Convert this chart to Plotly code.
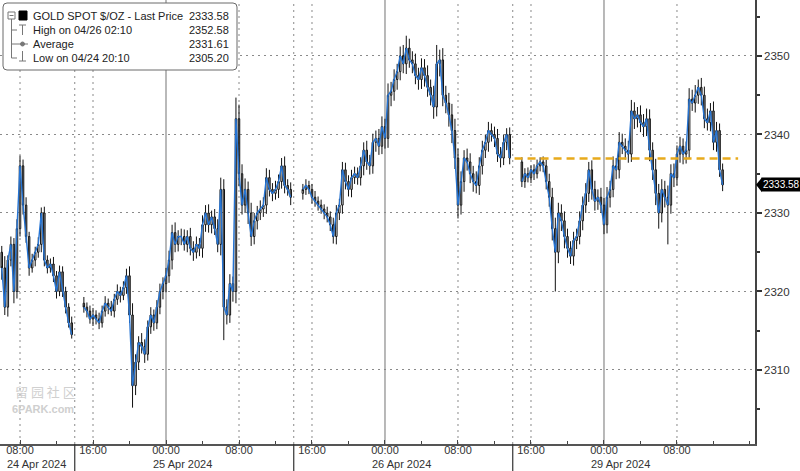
import plotly.graph_objects as go

# ---------------- data (20-minute bars, axis hours from 24 Apr 00:00, weekend removed) ----------------
seg_start_hours = [6.0, 15.0, 39.0, 63.0]
seg_first_open = [2325.0, 2318.5, 2332.5, 2336.5]

seg1_close = [2323, 2318, 2324, 2326, 2320, 2328, 2336, 2331, 2327, 2323, 2324, 2325,
              2326, 2330, 2324, 2323, 2323.5, 2322, 2320, 2322.5, 2320, 2318, 2316, 2314.5]

seg2_close = [2318, 2317.5, 2316.5, 2317, 2316.5, 2316, 2317.5, 2318.5, 2318, 2317.5, 2319, 2320,
              2319.5, 2320.5, 2322, 2317, 2308, 2311, 2313.5, 2313, 2312, 2315.5, 2317, 2316,
              2318, 2320, 2321, 2322, 2324, 2327.5, 2326, 2327, 2327, 2326, 2327, 2325.5,
              2325, 2326, 2325.5, 2328.5, 2330, 2328.5, 2329.5, 2328, 2326, 2333, 2318, 2317,
              2321, 2320, 2342, 2335, 2331, 2333, 2330, 2327, 2329, 2330, 2330.5, 2331,
              2334.5, 2333, 2332.5, 2333, 2334, 2336, 2333.5, 2333, 2332]

seg3_close = [2333, 2333.5, 2333, 2332, 2331.5, 2331, 2330.5, 2330, 2329.5, 2328.5, 2327, 2330,
              2331, 2335.5, 2334, 2333, 2334.5, 2335, 2334.5, 2336, 2338, 2336.5, 2336, 2339,
              2339.5, 2338.5, 2341, 2339.5, 2345, 2345.5, 2347, 2348, 2350, 2349, 2351, 2349.5,
              2349, 2347.5, 2347, 2348.5, 2347.5, 2346, 2345, 2343.5, 2349, 2349.5, 2345, 2344,
              2342.5, 2340.5, 2337, 2331, 2334, 2337, 2336.5, 2335, 2334, 2333.5, 2336, 2338,
              2339, 2340.5, 2340, 2339.5, 2337.5, 2337, 2339, 2340, 2337]

seg4_close = [2334, 2335, 2334.5, 2335.5, 2335, 2336, 2336.5, 2336, 2334, 2332, 2328, 2325,
              2330, 2329, 2327, 2325.5, 2324.5, 2326.5, 2327, 2329, 2331, 2332.5, 2335.5, 2333,
              2331.5, 2332, 2331, 2328.5, 2332, 2333, 2336, 2335.5, 2339, 2338.5, 2338, 2337.5,
              2343, 2342, 2342.5, 2341.5, 2341, 2342, 2338, 2335.5, 2332.5, 2330, 2333, 2332,
              2331, 2335, 2334.5, 2337.5, 2338.5, 2337.5, 2338, 2344.5, 2344, 2345, 2346, 2345,
              2342, 2341.5, 2343, 2339, 2340.5, 2335.5, 2333.58]

# wick lengths above / below the candle bodies (in $), estimated from the band width of the candles
seg1_up = [0.8, 1.5, 0.6, 1.0, 0.8, 1.2, 1.3, 0.8, 1.0, 0.6, 0.8, 0.7, 0.9, 0.7, 0.8, 0.6, 0.7, 0.9, 0.6, 0.8, 0.7, 0.6, 0.5, 0.8]
seg1_dn = [1.5, 1.0, 1.2, 0.8, 1.5, 0.9, 1.0, 1.2, 0.8, 1.0, 0.6, 0.8, 0.7, 1.0, 0.8, 0.7, 0.6, 0.8, 0.9, 0.6, 0.7, 0.8, 0.6, 0.5]
seg2_up = [0.8, 0.6, 0.7, 0.9, 0.6, 0.8, 0.7, 0.9, 0.6, 0.8, 0.7, 0.9, 0.6, 0.8, 0.9, 1.2, 1.5, 1.0, 0.8, 1.2,
           0.9, 0.8, 1.0, 0.7, 0.9, 1.0, 0.8, 1.0, 1.2, 1.0, 1.3, 0.8, 1.0, 0.9, 0.8, 1.1, 0.9, 1.0, 0.8, 1.2,
           1.0, 1.1, 0.8, 1.0, 1.2, 1.5, 1.3, 1.0, 1.2, 0.9, 1.5, 1.8, 1.2, 1.4, 1.0, 1.3, 1.0, 0.9, 1.1, 1.0,
           1.2, 1.0, 0.8, 1.1, 0.9, 1.0, 1.2, 0.8, 0.9]
seg2_dn = [0.7, 0.8, 0.6, 0.9, 0.7, 0.8, 0.6, 0.7, 0.9, 0.6, 0.8, 0.7, 0.9, 0.6, 0.8, 1.0, 1.5, 1.2, 1.0, 0.9,
           1.1, 0.8, 0.9, 1.0, 0.8, 0.9, 1.0, 1.1, 0.9, 1.2, 1.0, 0.9, 1.1, 0.8, 1.0, 0.9, 1.1, 0.8, 1.0, 1.2,
           0.9, 1.0, 1.1, 0.8, 1.0, 1.4, 1.5, 1.2, 1.0, 1.3, 1.5, 1.6, 1.2, 1.0, 1.4, 1.2, 1.0, 1.1, 0.9, 1.0,
           1.1, 0.9, 1.0, 0.8, 1.1, 0.9, 1.0, 0.8, 1.0]
seg3_up = [0.7, 0.8, 0.6, 0.7, 0.8, 0.6, 0.7, 0.6, 0.8, 0.7, 0.9, 1.0, 0.8, 1.0, 0.9, 0.8, 1.0, 0.9, 0.8, 1.1,
           1.0, 1.2, 0.9, 1.1, 1.0, 1.2, 1.3, 1.0, 1.5, 1.2, 1.3, 1.0, 1.2, 1.4, 1.0, 1.2, 1.1, 1.3, 1.0, 1.2,
           1.1, 1.3, 1.0, 1.2, 1.4, 1.3, 1.5, 1.2, 1.3, 1.4, 1.5, 1.2, 1.3, 1.0, 1.2, 1.1, 1.0, 1.3, 1.1, 1.2,
           1.0, 1.1, 0.9, 1.0, 1.2, 0.9, 1.0, 0.8, 0.9]
seg3_dn = [0.8, 0.7, 0.6, 0.8, 0.7, 0.7, 0.6, 0.8, 0.7, 0.8, 0.9, 1.0, 0.9, 1.1, 1.0, 0.9, 1.0, 0.8, 0.9, 1.0,
           1.2, 1.0, 1.1, 1.0, 1.2, 1.1, 1.0, 1.3, 1.2, 1.4, 1.2, 1.3, 1.1, 1.2, 1.3, 1.0, 1.2, 1.1, 1.3, 1.2,
           1.4, 1.2, 1.3, 1.5, 1.2, 1.6, 1.4, 1.3, 1.5, 1.6, 1.4, 1.3, 1.2, 1.3, 1.1, 1.2, 1.3, 1.0, 1.2, 1.1,
           1.0, 1.2, 0.9, 1.1, 1.0, 1.2, 0.9, 1.0, 0.8]
seg4_up = [0.6, 0.7, 0.8, 0.6, 0.7, 0.8, 0.6, 0.7, 0.8, 1.0, 1.2, 1.4, 1.3, 1.1, 1.2, 1.0, 0.9, 1.1, 1.0, 1.2,
           1.1, 1.3, 1.0, 1.2, 1.1, 1.0, 1.2, 0.9, 1.3, 1.1, 1.2, 1.0, 1.3, 1.1, 1.0, 1.2, 1.3, 1.1, 1.0, 1.2,
           1.1, 1.3, 1.2, 1.0, 1.4, 1.2, 1.3, 1.1, 1.5, 1.2, 1.3, 1.1, 1.2, 1.0, 1.1, 1.4, 1.2, 1.3, 1.0, 1.2,
           1.1, 1.3, 1.0, 1.2, 1.1, 0.9, 0.8]
seg4_dn = [0.7, 0.8, 0.6, 0.7, 0.8, 0.6, 0.7, 0.8, 1.0, 1.2, 1.5, 1.6, 1.4, 1.3, 1.5, 1.2, 1.0, 1.2, 1.1, 1.0,
           1.2, 1.0, 1.1, 1.3, 1.2, 1.1, 1.0, 1.2, 1.1, 1.3, 1.0, 1.2, 1.1, 1.0, 1.2, 1.1, 1.0, 1.3, 1.1, 1.2,
           1.3, 1.2, 1.4, 1.3, 1.5, 1.6, 1.2, 1.3, 1.4, 1.1, 1.2, 1.0, 1.1, 1.3, 1.2, 1.1, 1.0, 1.2, 1.1, 1.3,
           1.2, 1.0, 1.1, 1.0, 1.2, 0.9, 0.8]

# notable wick extremes (axis hour, price)
wick_hours = [6.333, 8.0, 20.333, 30.0, 30.333, 31.667, 42.333, 43.333, 50.333, 53.667, 56.0,
              66.667, 70.333, 72.0, 75.0, 78.0, 79.0, 82.333]
wick_prices = [2317, 2337.3, 2305.2, 2334.5, 2313.8, 2344.7, 2326.5, 2336.3, 2352.58, 2351.4, 2329.3,
               2320, 2336.3, 2327.8, 2344.4, 2328, 2326, 2347]

ref_line_level = 2336.95
ref_line_hours = [62.2, 86.7]

major_tick_hours = [8, 16, 24, 32, 40, 48, 56, 64, 72, 80]
major_tick_text = ["08:00", "16:00", "00:00", "08:00", "16:00", "00:00", "08:00", "16:00", "00:00", "08:00"]
day_start_hours = [24, 48, 72]
date_label_hours = [8, 24, 48, 72]
date_labels = ["24 Apr 2024", "25 Apr 2024", "26 Apr 2024", "29 Apr 2024"]
session_break_hours = [14, 38, 62]
y_ticks = [2310, 2320, 2330, 2340, 2350]
y_minor = [2305, 2315, 2325, 2335, 2345, 2355]

legend_rows = ["GOLD SPOT $/OZ - Last Price", "High on 04/26 02:10", "Average", "Low on 04/24 20:10"]
legend_vals = ["2333.58", "2352.58", "2331.61", "2305.20"]
last_price = 2333.58

# ---------------- build OHLC ----------------
segs = [seg1_close, seg2_close, seg3_close, seg4_close]
ups = [seg1_up, seg2_up, seg3_up, seg4_up]
dns = [seg1_dn, seg2_dn, seg3_dn, seg4_dn]
xs, o, h, l, c = [], [], [], [], []
line_x, line_y = [], []
for s0, op0, closes, up, dn in zip(seg_start_hours, seg_first_open, segs, ups, dns):
    prev = op0
    for i, cl in enumerate(closes):
        t = s0 + i / 3.0
        xs.append(t)
        o.append(prev)
        c.append(cl)
        h.append(max(prev, cl) + (up[i] if i < len(up) else 0))
        l.append(min(prev, cl) - (dn[i] if i < len(dn) else 0))
        line_x.append(t)
        line_y.append(cl)
        prev = cl
    line_x.append(None)
    line_y.append(None)

for wh, wp in zip(wick_hours, wick_prices):
    j = min(range(len(xs)), key=lambda k: abs(xs[k] - wh))
    h[j] = max(h[j], wp)
    l[j] = min(l[j], wp)

FONT = "Liberation Sans"
W, H = 800, 471
ML, MR, MT, MB = 0, 45, 0, 27
PW, PH = W - ML - MR, H - MT - MB

def px(xp):
    return (xp - ML) / PW

def py(yp):
    return 1 - (yp - MT) / PH

fig = go.Figure()
fig.add_trace(go.Candlestick(
    x=xs, open=o, high=h, low=l, close=c,
    increasing=dict(line=dict(color="#111111", width=1), fillcolor="#ffffff"),
    decreasing=dict(line=dict(color="#111111", width=1), fillcolor="#8c8c8c"),
    whiskerwidth=0, hoverinfo="skip", showlegend=False,
))
fig.add_trace(go.Scatter(
    x=line_x, y=line_y, mode="lines", line=dict(color="#2574d4", width=1.4),
    connectgaps=False, hoverinfo="skip", showlegend=False,
))
fig.add_trace(go.Scatter(
    x=ref_line_hours, y=[ref_line_level, ref_line_level], mode="lines",
    line=dict(color="#e8aa1c", width=2.5, dash="8px,5px"), hoverinfo="skip", showlegend=False,
))

shapes = []
dotted_hours = [hh for hh in major_tick_hours if hh not in day_start_hours] + session_break_hours
for hh in dotted_hours:
    shapes.append(dict(type="line", xref="x", yref="paper", x0=hh, x1=hh, y0=0, y1=1,
                       line=dict(color="#8a8a8a", width=1, dash="2px,4px"), layer="below"))
for hh in day_start_hours:
    shapes.append(dict(type="line", xref="x", yref="paper", x0=hh, x1=hh, y0=0, y1=1,
                       line=dict(color="#8a8a8a", width=1.2), layer="below"))
for hh in session_break_hours:
    shapes.append(dict(type="line", xref="x", yref="paper", x0=hh, x1=hh, y0=0, y1=-MB / PH,
                       line=dict(color="#333333", width=1.2), layer="above"))

# legend box (rounded)
x0, x1, y0, y1, r = px(3), px(237), py(3), py(70), 4
rx, ry = r / PW, r / PH
path = (f"M {x0+rx},{y0} L {x1-rx},{y0} Q {x1},{y0} {x1},{y0-ry} L {x1},{y1+ry} "
        f"Q {x1},{y1} {x1-rx},{y1} L {x0+rx},{y1} Q {x0},{y1} {x0},{y1+ry} L {x0},{y0-ry} "
        f"Q {x0},{y0} {x0+rx},{y0} Z")
shapes.append(dict(type="path", xref="paper", yref="paper", path=path,
                   line=dict(color="#6a6a6a", width=1), fillcolor="white", layer="above"))
ic = "#777777"
def seg(xa, ya, xb, yb, col=ic, w=1):
    shapes.append(dict(type="line", xref="paper", yref="paper", x0=px(xa), y0=py(ya), x1=px(xb), y1=py(yb),
                       line=dict(color=col, width=w), layer="above"))
shapes.append(dict(type="rect", xref="paper", yref="paper", x0=px(8), y0=py(12), x1=px(15), y1=py(19),
                   line=dict(color=ic, width=1), fillcolor="white", layer="above"))
seg(9.5, 15.5, 13.5, 15.5)
shapes.append(dict(type="rect", xref="paper", yref="paper", x0=px(19), y0=py(11), x1=px(27), y1=py(20),
                   line=dict(color="#000", width=1), fillcolor="#000", layer="above"))
seg(11.5, 19, 11.5, 58)
for yy in (30, 44, 58):
    seg(11.5, yy, 17, yy)
seg(19, 25, 26, 25); seg(22.5, 25, 22.5, 35)          # high
seg(17, 44, 28, 44)                                     # average
shapes.append(dict(type="circle", xref="paper", yref="paper", x0=px(20.5), y0=py(42), x1=px(24.5), y1=py(46),
                   line=dict(color=ic, width=1), fillcolor=ic, layer="above"))
seg(22.5, 51, 22.5, 61); seg(19, 61, 26, 61)          # low

# last price tag triangle
tip = px(756)
base = px(762)
shapes.append(dict(type="path", xref="paper", yref="y",
                   path=f"M {tip},{last_price} L {base},{last_price+0.95} L {base},{last_price-0.95} Z",
                   fillcolor="#000", line=dict(width=0), layer="above"))

annotations = []
for hh, txt in zip(date_label_hours, date_labels):
    annotations.append(dict(x=hh, y=-26.5 / PH, xref="x", yref="paper", text=txt, showarrow=False,
                            xanchor="left", yanchor="bottom", xshift=-14, borderpad=0,
                            font=dict(family=FONT, size=11, color="#333")))
row_y = [16, 30, 44, 58]
for ry_, name, val in zip(row_y, legend_rows, legend_vals):
    annotations.append(dict(x=px(31), y=py(ry_), xref="paper", yref="paper", text=name, showarrow=False,
                            xanchor="left", yanchor="middle", font=dict(family=FONT, size=11, color="#222")))
    annotations.append(dict(x=px(231), y=py(ry_), xref="paper", yref="paper", text=val, showarrow=False,
                            xanchor="right", yanchor="middle", font=dict(family=FONT, size=11, color="#222")))
annotations.append(dict(x=px(761), y=last_price, xref="paper", yref="y", text=f"{last_price:.2f}",
                        showarrow=False, xanchor="left", yanchor="middle", bgcolor="#000", borderpad=1,
                        font=dict(family=FONT, size=10, color="#fff")))
annotations.append(dict(x=px(45), y=py(391), xref="paper", yref="paper", text="留 园 社 区", showarrow=False,
                        xanchor="center", yanchor="middle",
                        font=dict(family="Noto Sans CJK SC", size=13, color="#d0d0d0")))
annotations.append(dict(x=px(43), y=py(409), xref="paper", yref="paper", text="<b>6PARK.com</b>", showarrow=False,
                        xanchor="center", yanchor="middle",
                        font=dict(family=FONT, size=11, color="#cfcfcf")))

x_minor = [hh for hh in range(4, 89, 4) if hh not in major_tick_hours]

fig.update_layout(
    width=W, height=H, margin=dict(l=ML, r=MR, t=MT, b=MB),
    paper_bgcolor="white", plot_bgcolor="white",
    font=dict(family=FONT, size=11, color="#333"),
    shapes=shapes, annotations=annotations, showlegend=False,
    xaxis=dict(range=[5.808, 88.55], tickmode="array", tickvals=major_tick_hours, ticktext=major_tick_text,
               ticks="inside", ticklen=4, tickcolor="#444", showline=True, linecolor="#555", linewidth=1.5,
               showgrid=False, zeroline=False, rangeslider=dict(visible=False), ticklabelstandoff=-5,
               minor=dict(tickvals=x_minor, ticks="inside", ticklen=3, tickcolor="#444"),
               tickfont=dict(family=FONT, size=11, color="#333"), fixedrange=True),
    yaxis=dict(side="right", range=[2300.57, 2357.13], tickmode="array", tickvals=y_ticks,
               ticks="outside", ticklen=5, tickwidth=2, tickcolor="#333",
               showline=True, linecolor="#444", linewidth=1.5,
               showgrid=True, gridcolor="#8a8a8a", gridwidth=1, griddash="2px,4px", zeroline=False,
               minor=dict(tickvals=y_minor, ticks="outside", ticklen=3, tickcolor="#333"),
               tickfont=dict(family=FONT, size=11.5, color="#333"), fixedrange=True),
)

fig.write_html("out.html", config={"displayModeBar": False},
               post_script="document.body.style.margin='0';")
